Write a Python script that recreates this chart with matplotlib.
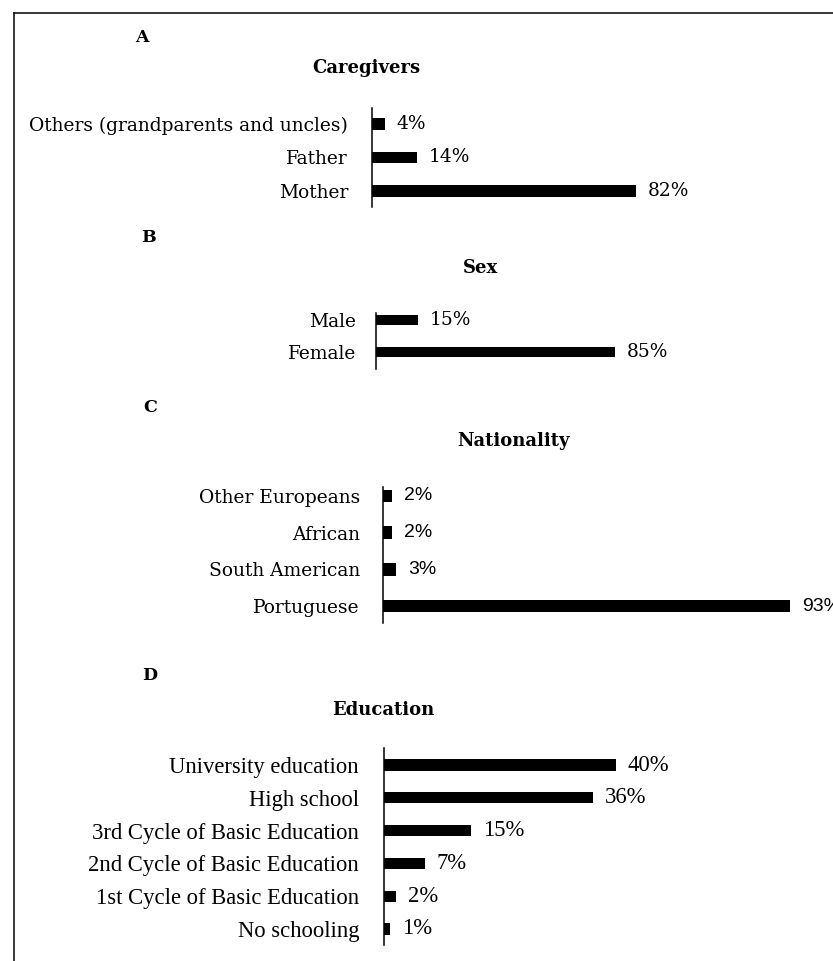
import matplotlib
matplotlib.use("Agg")
import matplotlib.pyplot as plt
from matplotlib.lines import Line2D

# ---- data ----
care_cats = ["Others (grandparents and uncles)", "Father", "Mother"]
care_vals = [4, 14, 82]
sex_cats = ["Male", "Female"]
sex_vals = [15, 85]
nat_cats = ["Other Europeans", "African", "South American", "Portuguese"]
nat_vals = [2, 2, 3, 93]
edu_cats = ["University education", "High school", "3rd Cycle of Basic Education",
            "2nd Cycle of Basic Education", "1st Cycle of Basic Education", "No schooling"]
edu_vals = [40, 36, 15, 7, 2, 1]

W, H = 833, 961
fig = plt.figure(figsize=(W / 100, H / 100), dpi=100)
PT = 0.72  # points per pixel at 100 dpi


def add_ax(l, t, w, h):
    return fig.add_axes([l / W, 1 - (t + h) / H, w / W, h / H])


def panel(ax, cats, vals, ylo, yhi, pad_px, lab_font, lab_size, pct_font, pct_size):
    y = list(range(len(cats)))
    ax.barh(y, vals, height=0.34, color="black")
    ax.set_xlim(0, 100)
    ax.set_ylim(yhi, ylo)
    for s in ["top", "right", "bottom"]:
        ax.spines[s].set_visible(False)
    ax.spines["left"].set_linewidth(1.1)
    ax.set_xticks([])
    ax.set_yticks(y)
    ax.set_yticklabels(cats, fontfamily=lab_font, fontsize=lab_size)
    ax.tick_params(axis="y", length=0, pad=pad_px * PT)
    for yi, v in zip(y, vals):
        ax.annotate(f"{v}%", (v, yi), xytext=(12 * PT, 0), textcoords="offset points",
                    va="center", ha="left", fontfamily=pct_font, fontsize=pct_size,
                    annotation_clip=False)


SERIF = "DejaVu Serif"

axA = add_ax(372, 108, 322, 99)
panel(axA, care_cats, care_vals, -0.48, 2.48, 24, SERIF, 13.4, SERIF, 13.4)

axB = add_ax(376, 313, 281, 56)
panel(axB, sex_cats, sex_vals, -0.22, 1.53, 20, SERIF, 13.4, SERIF, 13.4)

axC = add_ax(383, 487, 438, 136)
panel(axC, nat_cats, nat_vals, -0.245, 3.46, 23, SERIF, 13.4, "Liberation Sans", 14)

axD = add_ax(384, 748, 580, 197)
panel(axD, edu_cats, edu_vals, -0.52, 5.49, 25, "Liberation Serif", 16.3, "Liberation Serif", 16.3)


def ftext(x, y, s, size, bold=True, ha="center"):
    fig.text(x / W, 1 - y / H, s, ha=ha, va="center", fontfamily=SERIF,
             fontsize=size, fontweight="bold" if bold else "normal")


ftext(142, 38, "A", 12.5)
ftext(366, 68, "Caregivers", 13)
ftext(148, 238, "B", 12.5)
ftext(481, 268, "Sex", 13)
ftext(150, 408, "C", 12.5)
ftext(513, 441, "Nationality", 13)
ftext(150, 676, "D", 12.5)
ftext(383, 710, "Education", 13)

# outer frame (left and top edges visible)
fig.add_artist(Line2D([14 / W, 14 / W], [0, 1 - 13 / H], transform=fig.transFigure,
                      color="black", lw=1.1))
fig.add_artist(Line2D([14 / W, 1], [1 - 13 / H, 1 - 13 / H], transform=fig.transFigure,
                      color="black", lw=1.1))

fig.savefig("out.png", dpi=100)
